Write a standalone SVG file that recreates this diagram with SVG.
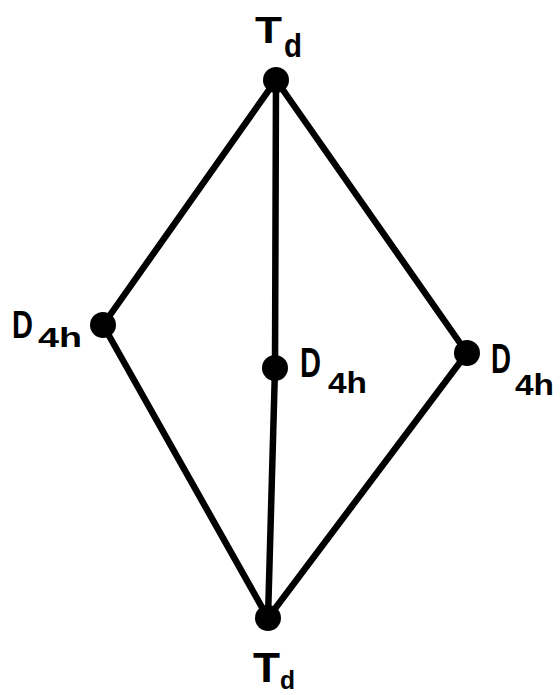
<svg xmlns="http://www.w3.org/2000/svg" width="560" height="695" viewBox="0 0 560 695">
<style>
.e{stroke:#000;stroke-width:6.5;stroke-linecap:round;fill:none}
.n{fill:#000}
.t{font-family:"Liberation Sans",Arial,sans-serif;font-weight:bold;fill:#000}
</style>
<rect width="560" height="695" fill="#fff"/>
<g id="connectors">
<line class="e" x1="276" y1="80" x2="103" y2="325"/>
<line class="e" x1="103" y1="325" x2="268" y2="618"/>
<line class="e" x1="276" y1="80" x2="467" y2="353"/>
<line class="e" x1="467" y1="353" x2="268" y2="618"/>
<line class="e" x1="276" y1="80" x2="275" y2="368"/>
<line class="e" x1="275" y1="368" x2="268" y2="618"/>
</g>
<g id="node-top">
<circle class="n" cx="276" cy="80" r="13"/>
<text class="t" x="255" y="43" font-size="36" textLength="27" lengthAdjust="spacingAndGlyphs">T</text>
<text class="t" x="284" y="57" font-size="34" textLength="18" lengthAdjust="spacingAndGlyphs">d</text>
</g>
<g id="node-left">
<circle class="n" cx="103" cy="325" r="13"/>
<text class="t" x="12" y="338" font-size="39" textLength="21" lengthAdjust="spacingAndGlyphs">D</text>
<text class="t" x="38" y="347" font-size="27" textLength="44" lengthAdjust="spacingAndGlyphs">4h</text>
</g>
<g id="node-center">
<circle class="n" cx="275" cy="368" r="13"/>
<text class="t" x="300" y="377" font-size="42" textLength="21" lengthAdjust="spacingAndGlyphs">D</text>
<text class="t" x="328" y="393" font-size="30" textLength="39" lengthAdjust="spacingAndGlyphs">4h</text>
</g>
<g id="node-right">
<circle class="n" cx="467" cy="353" r="13"/>
<text class="t" x="491" y="373" font-size="42" textLength="20" lengthAdjust="spacingAndGlyphs">D</text>
<text class="t" x="515" y="395" font-size="30" textLength="39" lengthAdjust="spacingAndGlyphs">4h</text>
</g>
<g id="node-bottom">
<circle class="n" cx="268" cy="618" r="13"/>
<text class="t" x="253" y="682" font-size="42" textLength="27" lengthAdjust="spacingAndGlyphs">T</text>
<text class="t" x="280" y="689" font-size="26" textLength="15" lengthAdjust="spacingAndGlyphs">d</text>
</g>
</svg>
